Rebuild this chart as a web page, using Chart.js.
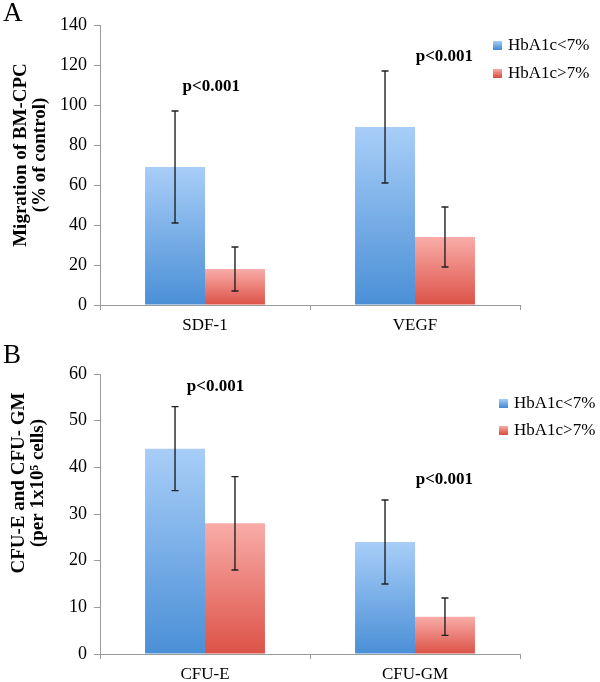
<!DOCTYPE html>
<html>
<head>
<meta charset="utf-8">
<script src="https://cdn.jsdelivr.net/npm/chart.js@4/dist/chart.umd.min.js"></script>
<style>
  body { margin: 0; background: #fff; }
  canvas { position: absolute; left: 0; }
  #chartA { top: 0; }
  #chartB { top: 340px; }
</style>
</head>
<body>
<canvas id="chartA" width="600" height="340"></canvas>
<canvas id="chartB" width="600" height="342"></canvas>
<script>
var seriesNames = ["HbA1c<7%", "HbA1c>7%"];

// panel A - migration
var migrationLabels = ["SDF-1", "VEGF"];
var migrationLow = [69, 89];
var migrationHigh = [18, 34];
var migrationLowErr = [28, 28];
var migrationHighErr = [11, 15];
var migrationTicks = [0, 20, 40, 60, 80, 100, 120, 140];
var migrationPText = ["p<0.001", "p<0.001"];
var migrationPAt = [[0.03, 109], [1.14, 124]];

// panel B - colonies
var colonyLabels = ["CFU-E", "CFU-GM"];
var colonyLow = [44, 24];
var colonyHigh = [28, 8];
var colonyLowErr = [9, 9];
var colonyHighErr = [10, 4];
var colonyTicks = [0, 10, 20, 30, 40, 50, 60];
var colonyPText = ["p<0.001", "p<0.001"];
var colonyPAt = [[0.05, 57.3], [1.14, 37.3]];

var blue = ["#a8cef8", "#4a8fd6"];
var red = ["#f9aca8", "#dc5247"];
var serif = "'Liberation Serif', 'Times New Roman', serif";

function barFill(cols) {
  return function (c) {
    var chart = c.chart;
    if (!chart.chartArea || c.raw == null) return cols[1];
    var y = chart.scales.y;
    var g = chart.ctx.createLinearGradient(0, y.getPixelForValue(c.raw), 0, y.getPixelForValue(0));
    g.addColorStop(0, cols[0]);
    g.addColorStop(1, cols[1]);
    return g;
  };
}

var errorBars = {
  id: 'errorBars',
  afterDatasetsDraw: function (chart) {
    var ctx = chart.ctx, y = chart.scales.y;
    ctx.save();
    ctx.strokeStyle = "#222";
    ctx.lineWidth = 1.4;
    chart.data.datasets.forEach(function (ds, i) {
      chart.getDatasetMeta(i).data.forEach(function (bar, j) {
        var v = ds.data[j], e = ds.errors[j];
        var t = y.getPixelForValue(v + e), b = y.getPixelForValue(v - e);
        ctx.beginPath();
        ctx.moveTo(bar.x, t); ctx.lineTo(bar.x, b);
        ctx.moveTo(bar.x - 3.5, t); ctx.lineTo(bar.x + 3.5, t);
        ctx.moveTo(bar.x - 3.5, b); ctx.lineTo(bar.x + 3.5, b);
        ctx.stroke();
      });
    });
    ctx.restore();
  }
};

function makeDecor(cfg) {
  return {
    id: 'decor',
    afterDraw: function (chart) {
      var ctx = chart.ctx, xs = chart.scales.x, ys = chart.scales.y;
      ctx.save();
      ctx.fillStyle = "#000";
      // panel letter
      ctx.font = "27px " + serif;
      ctx.textAlign = "left";
      ctx.textBaseline = "top";
      ctx.fillText(cfg.letter, 3, cfg.letterY);
      // y title
      ctx.font = "bold 19px " + serif;
      ctx.textAlign = "center";
      ctx.textBaseline = "middle";
      cfg.title.forEach(function (line, k) {
        ctx.save();
        ctx.translate(cfg.titleX[k], cfg.titleY);
        ctx.rotate(-Math.PI / 2);
        ctx.fillText(line, 0, 0);
        ctx.restore();
      });
      // p values
      ctx.font = "bold 17px " + serif;
      cfg.pText.forEach(function (txt, k) {
        ctx.fillText(txt, xs.getPixelForValue(cfg.pAt[k][0]), ys.getPixelForValue(cfg.pAt[k][1]));
      });
      // legend
      ctx.font = "17px " + serif;
      ctx.textAlign = "left";
      chart.data.datasets.forEach(function (ds, k) {
        var ry = cfg.legendY[k];
        var g = ctx.createLinearGradient(0, ry - 4, 0, ry + 4);
        g.addColorStop(0, ds.cols[0]);
        g.addColorStop(1, ds.cols[1]);
        ctx.fillStyle = g;
        ctx.fillRect(cfg.legendX, ry - 4, 9, 9);
        ctx.fillStyle = "#000";
        ctx.fillText(ds.label, cfg.legendX + 15, ry + 1);
      });
      ctx.restore();
    }
  };
}

function makeChart(id, labels, low, high, lowErr, highErr, ticks, area, decor) {
  var canvas = document.getElementById(id);
  return new Chart(canvas, {
    type: 'bar',
    data: {
      labels: labels,
      datasets: [
        { label: seriesNames[0], data: low, errors: lowErr, cols: blue, backgroundColor: barFill(blue) },
        { label: seriesNames[1], data: high, errors: highErr, cols: red, backgroundColor: barFill(red) }
      ]
    },
    options: {
      responsive: false,
      animation: false,
      layout: { padding: { top: area.top, right: 80, left: 0, bottom: 0 } },
      datasets: { bar: { categoryPercentage: 0.571, barPercentage: 1 } },
      plugins: { legend: { display: false }, tooltip: { enabled: false } },
      scales: {
        x: {
          grid: { offset: true, drawOnChartArea: false, tickLength: 5, color: "#9a9a9a" },
          border: { color: "#9a9a9a" },
          ticks: { padding: 5, color: "#000", font: { family: serif, size: 17 } },
          afterFit: function (s) { s.height = canvas.height - area.bottom; }
        },
        y: {
          min: ticks[0],
          max: ticks[ticks.length - 1],
          afterBuildTicks: function (s) { s.ticks = ticks.map(function (v) { return { value: v }; }); },
          grid: { drawOnChartArea: false, tickLength: 6, color: "#9a9a9a" },
          border: { color: "#9a9a9a" },
          ticks: { padding: 7, color: "#000", font: { family: serif, size: 18 } },
          afterFit: function (s) { s.width = 100; }
        }
      }
    },
    plugins: [errorBars, makeDecor(decor)]
  });
}

makeChart('chartA', migrationLabels, migrationLow, migrationHigh, migrationLowErr, migrationHighErr,
  migrationTicks, { top: 25, bottom: 305 }, {
    letter: "A", letterY: 0,
    title: ["Migration of BM-CPC", "(% of control)"], titleX: [21, 40], titleY: 155,
    pText: migrationPText, pAt: migrationPAt,
    legendX: 493, legendY: [45, 73]
  });

makeChart('chartB', colonyLabels, colonyLow, colonyHigh, colonyLowErr, colonyHighErr,
  colonyTicks, { top: 34, bottom: 314 }, {
    letter: "B", letterY: 2,
    title: ["CFU-E and CFU- GM", "(per 1x10\u2075 cells)"], titleX: [19, 38], titleY: 143,
    pText: colonyPText, pAt: colonyPAt,
    legendX: 499, legendY: [63, 90]
  });
</script>
</body>
</html>
